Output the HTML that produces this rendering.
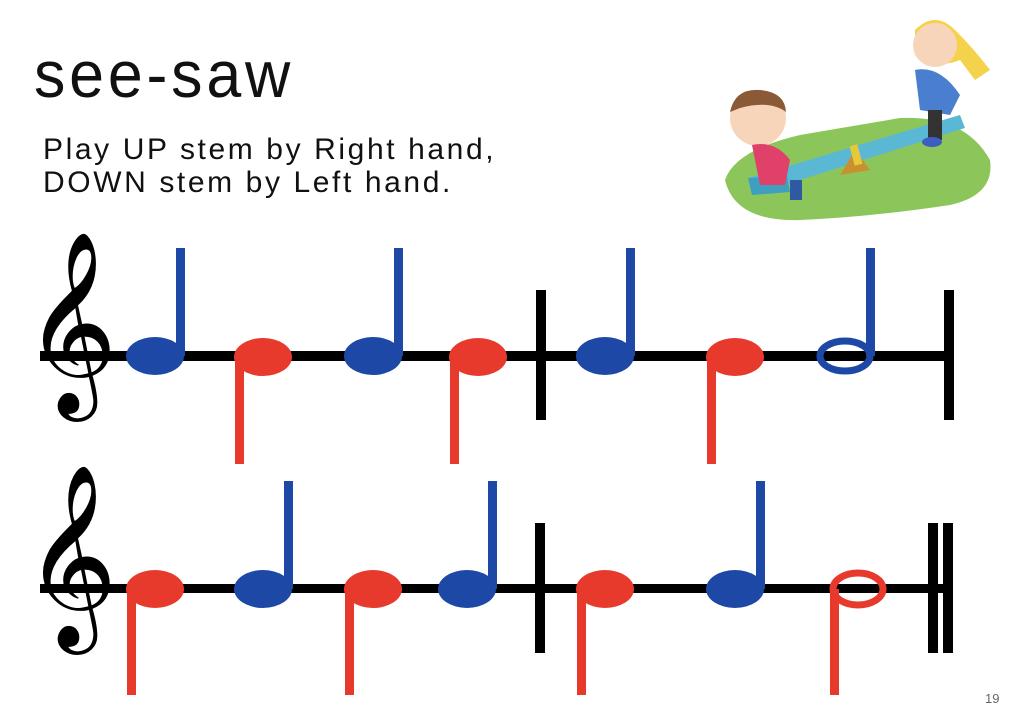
<!DOCTYPE html>
<html><head><meta charset="utf-8"><style>
body{margin:0;width:1020px;height:716px;background:#fff;overflow:hidden;position:relative;font-family:"Liberation Sans",sans-serif}
.t{position:absolute;color:#111}
</style></head><body>
<div class="t" style="left:34px;top:36px;font-size:66px;letter-spacing:4px;font-family:'Liberation Sans',sans-serif;font-weight:normal;transform:scaleX(0.95);transform-origin:left">see-saw</div>
<div class="t" style="left:43px;top:133px;font-size:30px;line-height:33px;letter-spacing:2.6px">Play UP stem by Right hand,<br>DOWN stem by Left hand.</div>
<svg width="1020" height="716" style="position:absolute;left:0;top:0">
<!-- illustration -->
<path d="M725 180 Q735 150 800 135 L900 118 Q965 115 990 160 Q995 195 950 205 Q870 217 800 220 Q735 222 725 180Z" fill="#8cc65a"/>
<path d="M748 178 L960 115 L965 128 L752 195Z" fill="#5bb8d4"/>
<path d="M748 178 L752 195 L790 192 L787 176Z" fill="#3e9fbf"/>
<path d="M840 175 L855 150 L870 170Z" fill="#c8902f"/>
<rect x="852" y="145" width="8" height="20" fill="#e6c93a" transform="rotate(-15 856 155)"/>
<circle cx="758" cy="118" r="28" fill="#f7d5bb"/><path d="M730 112 Q735 88 760 90 Q785 92 786 112 Q770 100 740 108Z" fill="#8a5a36"/>
<path d="M752 145 Q775 140 790 160 L785 185 L760 185Z" fill="#e0416a"/>
<rect x="790" y="180" width="12" height="20" fill="#2d5aa0"/>
<path d="M915 30 Q935 10 955 30 Q975 50 990 70 L975 80 L960 60 Q935 70 915 55Z" fill="#f4d24c"/>
<circle cx="935" cy="45" r="22" fill="#f7d5bb"/>
<path d="M915 70 Q940 65 960 95 L950 115 L920 110Z" fill="#4a7fd0"/>
<rect x="928" y="110" width="14" height="30" fill="#333"/>
<ellipse cx="932" cy="142" rx="10" ry="5" fill="#3a5fc0"/>
<!-- staff 1 -->
<rect x="40" y="351" width="910" height="10" fill="#000"/>
<rect x="536" y="290" width="10" height="130" fill="#000"/>
<rect x="944" y="290" width="10" height="130" fill="#000"/>
<!-- staff 2 -->
<rect x="40" y="584" width="910" height="9" fill="#000"/>
<rect x="535" y="523" width="10" height="130" fill="#000"/>
<rect x="928" y="523" width="10" height="130" fill="#000"/>
<rect x="943" y="523" width="10" height="130" fill="#000"/>
<g fill="#1d48a6">
<ellipse cx="155" cy="356" rx="29" ry="19"/><rect x="176" y="248" width="9" height="108"/>
<ellipse cx="373" cy="356" rx="29" ry="19"/><rect x="394" y="248" width="9" height="108"/>
<ellipse cx="605" cy="356" rx="29" ry="19"/><rect x="626" y="248" width="9" height="108"/>
<rect x="866" y="248" width="9" height="108"/>
<ellipse cx="263" cy="589" rx="29" ry="19"/><rect x="284" y="481" width="9" height="108"/>
<ellipse cx="467" cy="589" rx="29" ry="19"/><rect x="488" y="481" width="9" height="108"/>
<ellipse cx="735" cy="589" rx="29" ry="19"/><rect x="756" y="481" width="9" height="108"/>
</g>
<ellipse cx="845" cy="356" rx="25" ry="15" fill="none" stroke="#1d48a6" stroke-width="7"/>
<g fill="#e8392d">
<ellipse cx="263" cy="357" rx="29" ry="19"/><rect x="235" y="357" width="9" height="107"/>
<ellipse cx="478" cy="357" rx="29" ry="19"/><rect x="450" y="357" width="9" height="107"/>
<ellipse cx="735" cy="357" rx="29" ry="19"/><rect x="707" y="357" width="9" height="107"/>
<ellipse cx="155" cy="589" rx="29" ry="19"/><rect x="127" y="589" width="9" height="106"/>
<ellipse cx="373" cy="589" rx="29" ry="19"/><rect x="345" y="589" width="9" height="106"/>
<ellipse cx="605" cy="589" rx="29" ry="19"/><rect x="577" y="589" width="9" height="106"/>
<rect x="830" y="589" width="9" height="106"/>
</g>
<ellipse cx="858" cy="589" rx="25" ry="16" fill="none" stroke="#e8392d" stroke-width="7"/>
<text x="24" y="376" font-family="DejaVu Sans, sans-serif" font-size="158" fill="#000">𝄞</text>
<text x="24" y="609" font-family="DejaVu Sans, sans-serif" font-size="158" fill="#000">𝄞</text>
<text x="985" y="703" font-family="Liberation Sans, sans-serif" font-size="13" fill="#666">19</text>
</svg>
</body></html>
